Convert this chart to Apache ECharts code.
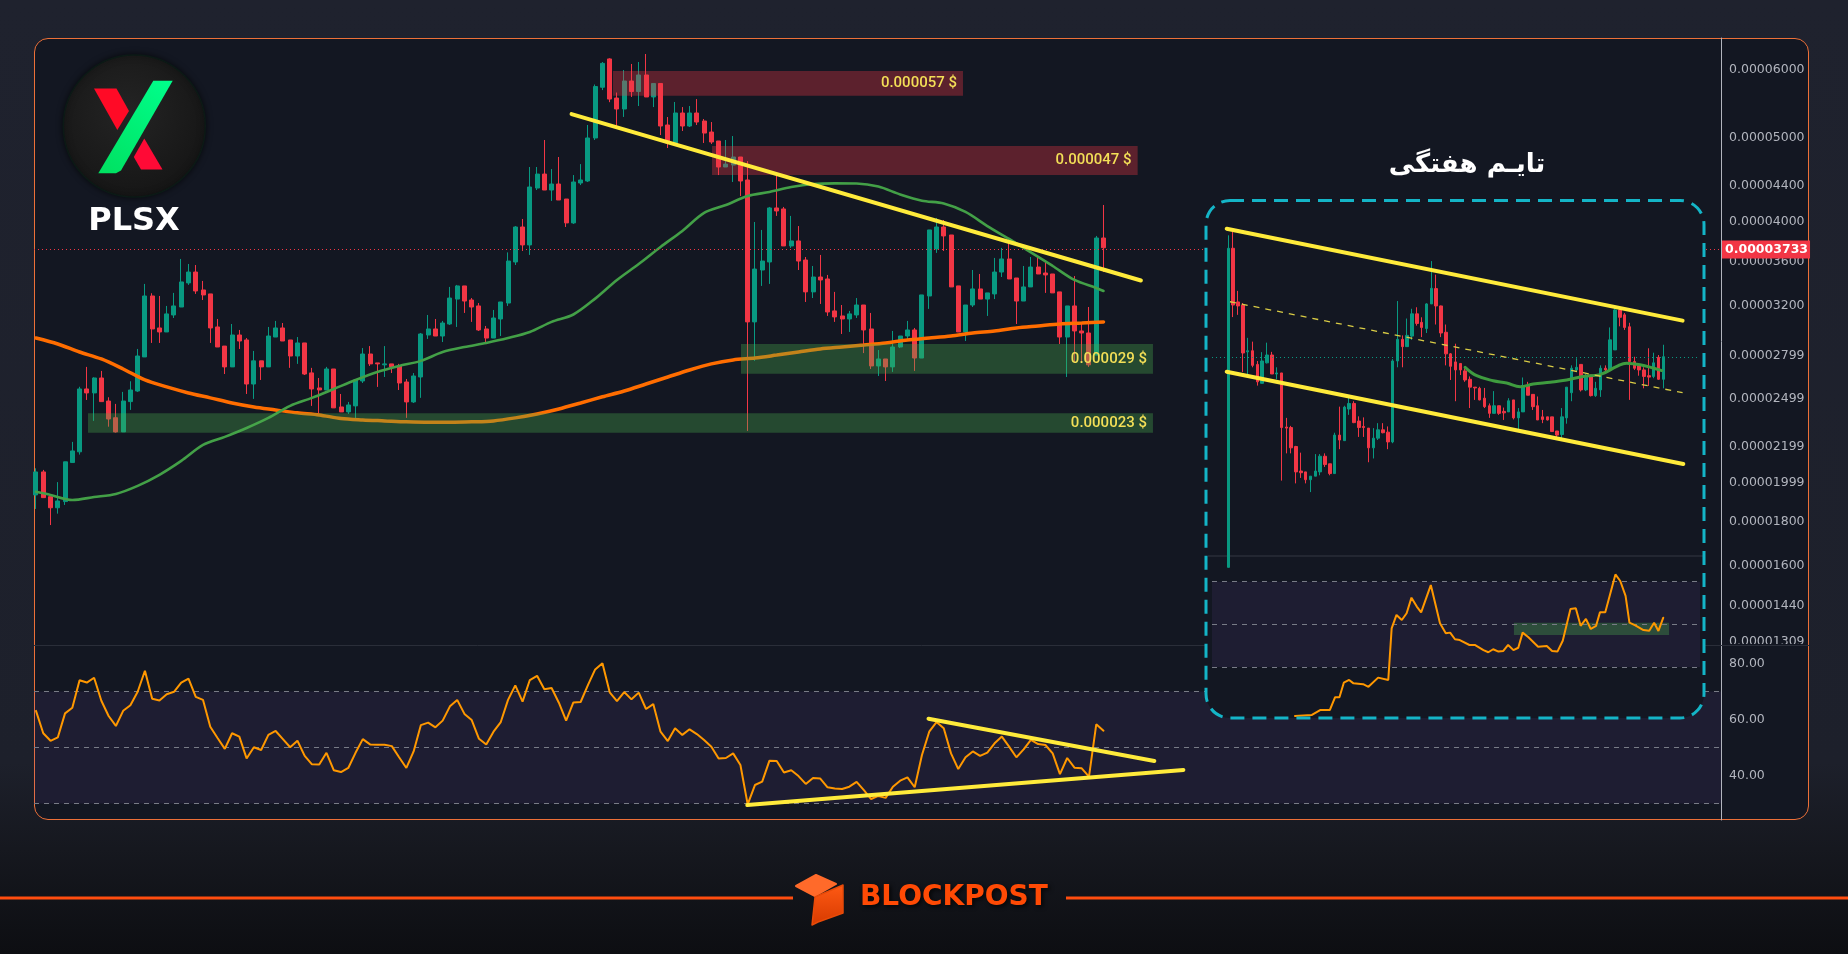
<!DOCTYPE html>
<html>
<head>
<meta charset="utf-8">
<script src="https://cdn.jsdelivr.net/npm/echarts@6.0.0/dist/echarts.min.js"></script>
<style>
html,body{margin:0;padding:0;width:1848px;height:954px;overflow:hidden;
  background:linear-gradient(180deg,#1f222e 0%,#1d202b 80%,#16181f 89%,#0d0e12 100%);}
#panel{position:absolute;left:34px;top:38px;width:1775px;height:782px;box-sizing:border-box;
  border:1px solid #ec7038;border-radius:14px;background:#131722;}
#c{position:absolute;left:0;top:0;width:1848px;height:954px;}
</style>
</head>
<body>
<div id="panel"></div>
<div id="c"></div>
<script>
// ---------------- DATA (prices in millionths of a US dollar) ----------------
const MICRO = 1e-6;
// daily candles: [open, close, low, high]
const dailyOHLC = [
[19.33,20.55,18.62,20.75],[20.55,19.19,19.19,20.66],[19.24,18.68,17.84,19.24],[18.68,19.02,18.39,20.00],
[18.99,21.11,18.82,21.11],[21.07,21.73,21.07,22.26],[21.68,25.63,21.52,25.78],[25.63,25.36,24.89,27.18],
[25.36,26.39,23.54,26.44],[26.39,24.78,24.78,26.89],[24.82,23.66,23.18,25.07],[23.74,22.86,22.82,24.63],
[22.86,24.82,22.86,25.43],[24.78,25.56,24.24,26.16],[25.49,27.98,25.43,28.51],[27.91,32.83,27.91,33.90],
[32.83,30.07,28.97,33.07],[30.15,29.83,28.97,32.83],[29.83,31.30,29.83,31.97],[31.21,31.97,30.96,33.10],
[31.88,34.08,31.88,36.23],[33.99,34.99,33.81,35.75],[34.99,33.27,33.01,35.65],[33.36,32.92,32.48,34.17],
[33.01,30.15,28.97,33.01],[30.23,28.66,28.66,30.88],[28.73,27.18,26.67,28.73],[27.18,29.59,27.18,30.47],
[29.59,29.12,28.51,29.99],[29.20,25.97,25.29,29.35],[25.97,27.62,24.96,28.36],[27.62,27.18,26.25,27.62],
[27.18,29.51,27.18,30.23],[29.43,30.15,29.43,30.72],[30.15,29.12,29.12,30.55],[29.20,27.98,27.11,29.20],
[27.98,28.97,27.40,29.43],[28.97,26.67,26.60,28.97],[26.75,25.63,24.50,27.11],[25.70,25.56,23.92,26.39],
[25.56,27.03,25.56,27.18],[27.03,24.37,24.37,27.03],[24.43,24.11,24.11,25.29],[24.11,24.56,23.98,24.76],
[24.50,26.25,23.60,26.25],[26.18,28.13,26.04,28.58],[28.13,27.40,27.25,28.73],[27.47,27.40,25.77,27.47],
[27.33,27.40,26.46,28.73],[27.40,27.18,26.74,27.40],[27.25,26.04,25.56,27.40],[26.11,24.76,23.73,26.32],
[24.76,26.53,24.69,26.74],[26.46,29.67,25.03,29.75],[29.59,30.07,29.28,31.21],[30.07,29.51,29.51,30.88],
[29.51,30.55,29.04,30.72],[30.47,32.65,30.39,33.63],[32.56,33.72,30.23,33.81],[33.72,32.39,31.38,33.72],
[32.48,31.88,30.64,32.65],[31.97,29.99,29.91,32.22],[30.07,29.35,28.97,30.31],[29.35,30.96,29.35,31.63],
[30.88,32.31,29.51,32.31],[32.22,36.03,31.97,36.87],[35.94,39.45,35.65,39.55],[39.45,37.61,37.01,40.30],
[37.61,43.88,36.62,46.28],[43.76,45.42,43.53,46.28],[45.42,43.53,43.53,49.73],[43.53,44.23,42.28,46.03],
[44.23,42.39,42.39,47.53],[42.50,39.88,39.45,42.50],[39.88,44.47,39.77,45.30],[44.35,44.71,44.11,46.64],
[44.59,50.00,44.47,51.76],[50.00,57.34,49.73,57.65],[57.23,60.99,56.80,61.21],[61.71,55.46,55.00,61.83],
[55.61,54.01,51.52,56.43],[54.01,58.19,52.88,59.92],[58.19,56.58,55.77,60.89],[56.58,59.13,54.44,61.21],
[59.13,55.77,55.77,62.53],[55.77,57.81,54.29,57.81],[57.81,51.62,50.39,57.81],[51.76,49.34,48.68,52.87],
[49.34,53.44,49.08,55.03],[53.44,51.62,50.94,54.29],[51.62,53.44,51.48,54.44],[53.44,52.17,51.76,55.46],
[52.31,50.66,49.34,52.59],[50.80,49.47,49.21,52.17],[49.60,46.28,45.30,49.60],[46.28,46.64,46.28,49.73],
[46.52,47.53,44.47,50.26],[47.53,44.59,42.84,47.53],[44.71,30.64,22.92,47.02],[30.64,35.27,27.62,39.98],
[35.18,36.03,33.72,39.14],[35.94,41.50,33.90,41.61],[41.50,41.17,40.63,45.30],[41.39,37.51,37.51,41.61],
[37.51,38.01,37.31,40.63],[38.01,36.03,35.18,39.55],[36.13,33.19,32.31,36.42],[33.19,34.53,32.65,35.56],
[34.53,34.26,32.14,36.62],[34.35,31.46,31.13,34.72],[31.55,31.05,30.64,33.19],[31.13,30.88,29.67,32.05],
[30.88,31.30,29.83,31.55],[31.21,32.05,30.96,32.65],[32.05,29.99,28.20,32.05],[30.07,27.25,27.03,31.38],
[27.25,27.76,26.53,28.43],[27.76,27.18,26.18,27.76],[27.18,28.66,26.82,29.91],[28.66,29.51,28.58,29.51],
[29.51,29.99,29.20,30.72],[29.99,27.83,26.89,30.15],[27.83,32.92,27.83,32.92],[32.83,39.14,31.72,39.14],
[37.21,39.45,36.82,40.41],[39.45,38.52,37.01,40.19],[38.62,33.63,33.63,38.62],[33.72,29.83,29.83,33.72],
[29.83,32.05,29.12,32.05],[32.05,33.45,31.88,35.18],[33.45,32.56,32.56,34.81],[32.56,33.10,31.13,33.10],
[33.01,34.99,32.56,36.33],[34.99,36.23,34.53,37.31],[36.23,34.35,34.35,38.21],[34.44,32.39,30.47,34.44],
[32.39,33.63,32.39,35.56],[33.63,35.46,33.63,36.42],[35.46,34.81,34.81,36.42],[34.90,34.72,33.10,36.13],
[34.81,33.10,33.10,34.81],[33.19,29.43,28.89,33.19],[29.43,31.97,26.46,31.97],[31.97,29.91,27.47,34.62],
[29.91,29.75,27.47,30.55],[29.75,27.33,27.18,31.88],[28.05,38.31,28.05,38.52],[38.31,37.33,34.99,41.83]
];
const lastPrice = 37.33;
// moving averages read at selected candle indices: [index, value]
const maFastDaily = [[0,19.49],[2,19.33],[5,19.07],[8,19.22],[11,19.38],[14,19.80],[17,20.39],[20,21.16],[23,22.08],
[26,22.56],[29,23.10],[32,23.73],[35,24.50],[38,25.03],[41,25.63],[44,26.25],[47,26.82],[50,27.25],[53,27.62],
[56,28.28],[59,28.66],[62,28.97],[65,29.35],[68,29.83],[71,30.64],[74,31.25],[77,32.60],[80,34.26],[83,35.75],
[86,37.41],[89,39.04],[92,40.96],[95,41.83],[98,42.84],[101,43.30],[104,43.88],[107,44.23],[110,44.31],[113,44.29],
[116,43.93],[119,43.02],[122,42.31],[125,42.00],[128,41.06],[131,39.55],[134,38.21],[137,36.87],[140,35.56],
[143,34.26],[146,33.54],[147,33.27]];
const maSlowDaily = [[0,29.35],[3,28.89],[6,28.28],[9,27.76],[12,27.03],[15,26.25],[18,25.77],[21,25.36],[24,25.03],
[27,24.69],[30,24.43],[33,24.24],[36,24.05],[39,23.92],[42,23.69],[45,23.60],[48,23.54],[51,23.48],[54,23.45],
[57,23.45],[60,23.48],[63,23.54],[66,23.73],[69,23.98],[72,24.30],[75,24.69],[78,25.10],[81,25.49],[84,25.97],
[87,26.46],[90,26.96],[93,27.40],[96,27.69],[99,27.83],[102,28.05],[105,28.28],[108,28.51],[111,28.66],[114,28.81],
[117,28.97],[120,29.20],[123,29.35],[126,29.51],[129,29.75],[132,29.91],[135,30.15],[138,30.31],[141,30.47],
[144,30.55],[147,30.64]];
// daily RSI, one value per candle
const rsiDaily = [63.1,55.1,52.4,53.6,62.2,64.2,74.0,73.2,74.9,66.7,61.25,57.7,63.1,65.1,69.9,77.4,67.4,66.8,69.0,69.9,
73.2,74.6,68.1,67.0,57.4,53.4,49.5,55.1,53.9,46.1,50.1,49.1,54.5,55.9,53.0,50.1,52.4,47.0,44.0,43.9,
48.1,41.9,41.25,42.7,48.1,53.0,51.1,51.0,51.0,50.5,46.5,42.7,48.6,58.0,58.9,57.2,59.6,64.7,67.0,62.0,
59.8,53.1,51.1,55.65,59.1,67.0,72.2,66.4,74.1,75.6,70.8,71.25,66.0,59.6,66.1,66.25,72.3,77.9,80.1,69.7,
66.6,69.8,67.2,69.6,63.75,65.5,55.65,52.3,56.85,54.5,56.5,54.8,52.7,50.3,46.1,46.25,47.9,43.75,29.7,36.6,
37.8,45.3,45.2,41.1,41.85,39.8,37.0,39.1,38.9,35.8,35.4,35.2,36.0,37.7,34.8,31.6,32.7,32.0,36.0,38.15,
39.35,35.8,47.3,55.65,59.1,56.85,47.9,42.3,46.5,48.6,47.0,48.15,51.5,53.9,50.3,46.5,49.35,52.7,51.25,50.9,
47.9,40.5,46.25,42.8,42.55,39.6,58.3,56.0];
// price axis tick labels and RSI levels
const priceTickLabels = [60,50,44,40,36,32,27.99,24.99,21.99,19.99,18,16,14.4,13.09];
const rsiTickLabels = [40,60,80];
const rsiLevels = [30,50,70];
// drawn zones: candle index range and price band
const zoneLabels = ['0.000057 $','0.000047 $','0.000029 $','0.000023 $'];
const zoneKinds  = ['resistance','resistance','support','support'];
const zoneFrom   = [79.45, 93.09, 97.08, 7.16];
const zoneTo     = [127.65, 151.7, 153.81, 153.81];
const zoneTop    = [59.76, 48.94, 28.89, 24.02];
const zoneBottom = [55.96, 45.31, 26.69, 22.81];
// trend lines: [index, value]
const dailyTrend = [[73.75,53.29],[152.15,34.21]];
const rsiTrendUpper = [[122.9,60.3],[154.0,45.2]];
const rsiTrendLower = [[97.95,29.46],[158.0,41.96]];

// weekly inset candles: [open, close, low, high]
const weeklyOHLC = [
[5.5,100.0,5.5,112.5],[100.0,59.7,53.5,116.0],[61.4,59.2,54.6,67.9],[59.7,38.6,32.5,60.8],[39.0,39.4,30.9,44.3],
[39.4,34.5,33.9,42.8],[34.8,29.7,28.7,35.9],[29.3,35.9,29.3,38.9],[35.3,37.9,35.1,42.4],[37.9,31.9,31.9,39.0],
[31.9,32.2,30.4,33.9],[32.2,19.6,12.1,32.2],[19.7,19.5,15.5,21.4],[19.6,16.3,15.5,19.9],[16.5,13.1,11.8,16.6],
[13.2,13.0,12.4,15.6],[13.1,12.2,11.8,13.1],[12.2,12.6,10.9,12.6],[12.6,13.2,12.6,15.4],[13.1,15.1,12.7,15.4],
[15.1,14.0,13.7,15.5],[14.1,12.9,12.7,14.1],[12.9,18.3,12.9,18.7],[18.3,17.5,16.1,23.7],[17.4,23.6,17.4,23.9],
[23.2,24.4,22.0,26.2],[24.4,20.5,20.4,24.9],[20.8,19.6,18.0,21.7],[19.8,19.6,18.0,21.5],[19.5,16.3,14.3,19.5],
[16.3,17.8,14.8,19.5],[17.8,19.2,17.5,20.4],[19.2,18.7,18.6,20.4],[18.8,17.2,16.1,19.8],[17.2,35.9,17.0,36.5],
[35.9,43.7,33.9,61.9],[43.7,40.9,33.9,45.3],[40.9,45.3,40.9,52.8],[45.0,55.1,43.5,57.7],[55.1,50.5,49.5,58.5],
[51.0,48.7,44.6,53.4],[48.2,60.3,46.3,60.7],[60.3,69.5,60.3,89.0],[69.3,59.2,50.0,78.7],[59.2,46.3,44.6,59.4],
[46.6,38.3,34.5,50.0],[38.3,34.2,30.2,38.6],[35.6,33.1,24.9,42.0],[35.1,33.1,31.6,35.1],[32.8,30.2,29.7,33.6],
[30.4,28.3,23.4,31.2],[28.3,28.1,25.2,28.3],[28.0,25.2,25.1,28.4],[25.6,23.7,23.4,28.1],[23.9,22.3,21.4,24.4],
[22.3,23.9,22.3,27.3],[23.9,22.3,22.0,23.9],[22.7,22.4,21.0,23.5],[22.6,25.0,22.6,25.6],[25.2,21.4,21.1,25.2],
[21.4,22.6,18.9,23.4],[22.6,28.7,22.6,30.9],[28.7,26.3,26.3,29.7],[26.5,23.7,23.0,26.5],[23.9,21.0,21.0,26.0],
[21.6,21.1,20.4,23.0],[21.6,21.0,20.9,21.6],[21.6,18.9,18.9,21.6],[19.0,18.3,17.5,19.0],[18.4,21.6,17.4,23.4],
[21.4,28.3,20.3,28.3],[26.9,33.6,24.9,34.5],[33.1,33.9,32.5,36.8],[34.8,27.6,27.2,34.8],[27.6,31.4,27.3,31.9],
[31.6,26.2,26.0,31.6],[26.2,28.0,25.9,29.7],[27.6,33.6,25.9,34.5],[33.6,33.1,32.5,34.5],[33.1,43.5,33.1,48.7],
[39.7,57.1,39.7,58.1],[57.1,53.4,49.2,58.7],[54.6,48.7,47.6,55.5],[49.0,35.7,25.2,50.8],[35.7,33.6,33.1,37.3],
[34.5,33.1,31.4,35.1],[33.1,31.2,28.0,33.9],[31.4,31.0,28.6,40.3],[31.2,35.3,30.7,38.7],[37.1,30.4,30.2,37.9],
[30.4,37.33,28.0,41.6]
];
const weeklyMA = [[49.0,33.9],[51.4,31.4],[54.8,30.0],[57.6,29.4],[60.4,28.4],[63.1,29.1],[66.6,29.6],[70.0,30.2],
[73.4,31.2],[76.9,31.7],[80.4,34.2],[82.4,35.2],[85.2,34.7],[89.7,32.9]];
const weeklyRSI = [[13.8,7.0],[17.3,7.5],[19.0,9.8],[21.0,9.8],[22.1,15.8],[23.0,15.8],[23.9,22.6],[25.0,23.9],
[25.9,22.3],[27.9,21.9],[29.0,20.7],[31.0,25.0],[33.1,23.9],[33.8,48.1],[34.8,54.4],[35.9,52.0],[36.9,55.2],
[37.9,62.5],[39.0,58.3],[39.9,55.6],[41.9,68.4],[43.8,50.5],[45.0,45.8],[45.9,46.1],[46.9,43.0],[47.9,42.6],
[49.9,40.3],[51.0,40.3],[52.8,37.9],[53.8,36.9],[54.8,38.3],[55.9,37.2],[56.9,37.5],[57.9,40.3],[59.0,37.9],
[60.0,39.0],[60.9,46.1],[62.1,43.9],[64.1,39.5],[65.9,39.8],[67.0,37.5],[68.1,37.2],[69.2,42.3],[70.8,57.2],
[71.9,57.5],[72.9,49.3],[74.0,52.5],[75.0,47.8],[76.1,49.3],[76.9,55.6],[78.0,55.6],[80.1,73.4],[81.1,70.3],
[82.2,63.3],[83.0,50.75],[84.2,49.5],[85.9,47.3],[87.1,47.0],[88.1,50.75],[89.0,46.9],[90.0,53.1]];
const weeklyRsiZone = [[59.1,50.75],[91.2,45.0]];
const weeklyChannelUpper = [[-0.33,119.5],[94.0,51.8]];
const weeklyChannelLower = [[-0.33,32.57],[94.15,14.08]];
const weeklyChannelMid   = [[0.35,61.5],[94.0,26.9]];

// ---------------- CHART ----------------
const L = v => Math.log10(v);
const fmtPrice = v => (v * MICRO).toFixed(8);
const UP = '#089981', DOWN = '#f23645', YEL = '#ffeb3b', ORANGE_RSI = '#ff9800';
const AXF = 'DejaVu Sans';
const BG = '#131722';

const xMain = {type:'value', min:-0.2754, max:232.03, show:false, axisLine:{onZero:false}};
const xInset = {type:'value', min:-3.373, max:97.6, show:false, axisLine:{onZero:false}};
const axisLabelBase = {color:'#b2b5be', fontFamily:AXF, fontSize:12.5, margin:8};

const lineSeries = (pts, xi, yi, color, width, z, extra) => Object.assign({
  type:'line', xAxisIndex:xi, yAxisIndex:yi, data:pts, z:z, symbol:'none', silent:true,
  lineStyle:{color:color, width:width, cap:'round'}
}, extra || {});

const candleStyle = {color:UP, color0:DOWN, borderColor:UP, borderColor0:DOWN, borderWidth:1};
const rsiGuideLines = (z) => ({silent:true, z:z, symbol:'none', animation:false, label:{show:false},
    lineStyle:{color:'#787b86', type:[5,5], width:1}, data:rsiLevels.map(v=>({yAxis:v}))});

const option = {
  animation:false,
  backgroundColor:'transparent',
  grid:[
    {left:34, top:38, width:1687, height:607},
    {left:34, top:645, width:1687, height:175},
    {left:1212, top:205, width:488, height:351},
    {left:1212, top:556, width:488, height:162}
  ],
  xAxis:[
    Object.assign({gridIndex:0}, xMain),
    Object.assign({gridIndex:1}, xMain),
    Object.assign({gridIndex:2}, xInset),
    Object.assign({gridIndex:3}, xInset)
  ],
  yAxis:[
    {gridIndex:0, type:'value', position:'right', min:L(12.962), max:L(65.25),
     axisLine:{show:true, onZero:false, lineStyle:{color:'#b2b5be', width:1}}, axisTick:{show:false}, splitLine:{show:false},
     axisLabel:Object.assign({customValues:priceTickLabels.map(L), formatter:v=>fmtPrice(Math.pow(10,v))}, axisLabelBase)},
    {gridIndex:1, type:'value', position:'right', min:24.11, max:86.61,
     axisLine:{show:true, onZero:false, lineStyle:{color:'#b2b5be', width:1}}, axisTick:{show:false}, splitLine:{show:false},
     axisLabel:Object.assign({customValues:rsiTickLabels, formatter:v=>Number(v).toFixed(2)}, axisLabelBase)},
    {gridIndex:2, type:'value', min:L(6.098), max:L(148.2), show:false, axisLine:{onZero:false}},
    {gridIndex:3, type:'value', min:6.06, max:82.03, show:false, axisLine:{onZero:false}}
  ],
  series:[
    // ---- main RSI guides
    {type:'line', xAxisIndex:1, yAxisIndex:1, data:[], z:1, silent:true,
     markArea:{silent:true, z:1, itemStyle:{color:'rgba(126,87,194,0.1)'}, data:[[{yAxis:rsiLevels[0]},{yAxis:rsiLevels[2]}]]},
     markLine:rsiGuideLines(1)},
    // ---- daily candles
    {type:'candlestick', xAxisIndex:0, yAxisIndex:0, z:2, barWidth:4.5, clip:true, silent:true,
     dimensions:['idx','open','close','lowest','highest'],
     encode:{x:'idx', y:['open','close','lowest','highest']},
     data:dailyOHLC.map((d,i)=>[i, L(d[0]), L(d[1]), L(d[2]), L(d[3])]),
     itemStyle:candleStyle,
     markLine:{silent:true, z:5, symbol:'none', animation:false,
       lineStyle:{color:DOWN, type:[1,3], width:1},
       label:{show:true, position:'end', distance:1, formatter:()=>fmtPrice(lastPrice),
         backgroundColor:DOWN, color:'#ffffff', fontFamily:AXF, fontSize:12.5, fontWeight:'bold', padding:[3,2,2,3]},
       data:[{yAxis:L(lastPrice)}]}
    },
    // ---- moving averages
    lineSeries(maSlowDaily.map(p=>[p[0], L(p[1])]), 0, 0, '#ff6d00', 3.5, 3, {smooth:0.3}),
    lineSeries(maFastDaily.map(p=>[p[0], L(p[1])]), 0, 0, '#43a047', 2.6, 3, {smooth:0.3}),
    // ---- zones
    {type:'line', xAxisIndex:0, yAxisIndex:0, data:[], z:4, silent:true,
     markArea:{silent:true, z:4,
       label:{show:true, position:'insideRight', distance:6, formatter:'{b}', color:'#f3df57',
         fontFamily:'Roboto', fontSize:15, fontWeight:500},
       data:zoneLabels.map((lab,k)=>[
         {name:lab, xAxis:zoneFrom[k], yAxis:L(zoneTop[k]),
          itemStyle:{color: zoneKinds[k]==='resistance' ? 'rgba(242,54,69,0.33)' : 'rgba(76,175,80,0.33)'}},
         {xAxis:zoneTo[k], yAxis:L(zoneBottom[k])}
       ])}
    },
    // ---- daily trend line
    lineSeries(dailyTrend.map(p=>[p[0], L(p[1])]), 0, 0, YEL, 4, 6),
    // ---- daily RSI
    lineSeries(rsiDaily.map((v,i)=>[i, v]), 1, 1, ORANGE_RSI, 2, 3),
    lineSeries(rsiTrendUpper, 1, 1, YEL, 4, 6),
    lineSeries(rsiTrendLower, 1, 1, YEL, 4, 6),

    // ---- weekly inset
    {type:'candlestick', xAxisIndex:2, yAxisIndex:2, z:20, barWidth:3, clip:true, silent:true,
     dimensions:['idx','open','close','lowest','highest'],
     encode:{x:'idx', y:['open','close','lowest','highest']},
     data:weeklyOHLC.map((d,i)=>[i, L(d[0]), L(d[1]), L(d[2]), L(d[3])]),
     itemStyle:candleStyle,
     markLine:{silent:true, z:21, symbol:'none', animation:false, label:{show:false},
       lineStyle:{color:UP, type:[1,3], width:1}, data:[{yAxis:L(lastPrice)}]}
    },
    lineSeries(weeklyMA.map(p=>[p[0], L(p[1])]), 2, 2, '#3f9c3f', 3, 21, {smooth:0.4}),
    lineSeries(weeklyChannelUpper.map(p=>[p[0], L(p[1])]), 2, 2, YEL, 4, 22),
    lineSeries(weeklyChannelLower.map(p=>[p[0], L(p[1])]), 2, 2, YEL, 4, 22),
    lineSeries(weeklyChannelMid.map(p=>[p[0], L(p[1])]), 2, 2, '#d9cc45', 1.3, 22,
      {lineStyle:{color:'#d9cc45', width:1.3, type:[6,6]}}),
    {type:'line', xAxisIndex:3, yAxisIndex:3, data:[], z:20, silent:true,
     markArea:{silent:true, z:20, data:[
        [{yAxis:rsiLevels[0], itemStyle:{color:'rgba(126,87,194,0.1)'}},{yAxis:rsiLevels[2]}],
        [{xAxis:weeklyRsiZone[0][0], yAxis:weeklyRsiZone[0][1], itemStyle:{color:'rgba(76,175,80,0.33)'}},
         {xAxis:weeklyRsiZone[1][0], yAxis:weeklyRsiZone[1][1]}]
      ]},
     markLine:rsiGuideLines(21)},
    lineSeries(weeklyRSI, 3, 3, ORANGE_RSI, 2, 22)
  ],
  graphic:{elements:[
    // pane separators (the price-axis label running into the RSI pane is cut, as in the source)
    {type:'rect', z:6, silent:true, shape:{x:1722, y:644, width:86, height:9}, style:{fill:BG}},
    {type:'line', z:7, silent:true, shape:{x1:34, y1:645.5, x2:1809, y2:645.5}, style:{stroke:'#2a2e39', lineWidth:1}},
    // inset box
    {type:'rect', z:10, silent:true, shape:{x:1206, y:200.5, width:498, height:517.5, r:24}, style:{fill:BG}},
    {type:'line', z:15, silent:true, shape:{x1:1208, y1:556, x2:1703, y2:556}, style:{stroke:'#2a2e39', lineWidth:1.5}},
    {type:'rect', z:40, silent:true, shape:{x:1206, y:200.5, width:498, height:517.5, r:24},
     style:{fill:'none', stroke:'#14b5c7', lineWidth:3, lineDash:[14,8]}},
    {type:'text', z:40, silent:true, style:{x:1467, y:165, text:'تایـم هفتگی', fill:'#ffffff',
      font:'bold 26px "DejaVu Sans", "Noto Sans", sans-serif', textAlign:'center', textVerticalAlign:'middle'}},
    // coin logo
    {type:'circle', z:40, silent:true, shape:{cx:134.3, cy:126, r:71},
     style:{fill:{type:'radial', x:0.45, y:0.4, r:0.6, colorStops:[{offset:0,color:'#242424'},{offset:1,color:'#161616'}]},
            stroke:'#0c1a16', lineWidth:1.5, shadowBlur:6, shadowColor:'rgba(0,0,0,0.6)'}},
    {type:'polygon', z:41, silent:true, shape:{points:[[94,88.5],[116.5,88.5],[129,111],[117.3,130]]}, style:{fill:'#ff0a26'}},
    {type:'polygon', z:41, silent:true, shape:{points:[[144.3,138.5],[162.5,169.5],[141,169.5],[133.8,157]]}, style:{fill:'#ff0a36'}},
    {type:'polygon', z:42, silent:true, shape:{points:[[153.3,80.7],[172.7,80.7],[121,170.5],[116,173.3],[98.3,173.3]]},
     style:{fill:{type:'linear', x:0, y:1, x2:1, y2:0, colorStops:[{offset:0,color:'#00e060'},{offset:1,color:'#00ff8c'}]}}},
    {type:'text', z:40, silent:true, style:{x:134, y:222, text:'PLSX', fill:'#ffffff',
      font:'bold 32px "DejaVu Sans", sans-serif', textAlign:'center', textVerticalAlign:'middle'}},
    // footer brand
    {type:'line', z:40, silent:true, shape:{x1:0, y1:898, x2:793, y2:898}, style:{stroke:'#ff4d0f', lineWidth:3}},
    {type:'line', z:40, silent:true, shape:{x1:1066, y1:898, x2:1848, y2:898}, style:{stroke:'#ff4d0f', lineWidth:3}},
    {type:'polygon', z:40, silent:true, shape:{points:[[796,886],[816,875],[836,884],[815,896]]},
     style:{fill:'#ff6a2a', stroke:'#ff6a2a', lineWidth:2, lineJoin:'round'}},
    {type:'polygon', z:40, silent:true, shape:{points:[[815,897],[843,885],[843,913],[818,922],[812,925]]},
     style:{fill:{type:'linear', x:0, y:0, x2:0, y2:1, colorStops:[{offset:0,color:'#ff5a14'},{offset:1,color:'#d63a00'}]},
            stroke:'#e84a08', lineWidth:1.5, lineJoin:'round'}},
    {type:'text', z:40, silent:true, style:{x:860, y:898, text:'BLOCKPOST', fill:'#ff4a05',
      font:'bold 28px "DejaVu Sans", sans-serif', textVerticalAlign:'middle',
      textShadowColor:'rgba(0,0,0,0.7)', textShadowBlur:4, textShadowOffsetX:2, textShadowOffsetY:2}}
  ]}
};

const chart = echarts.init(document.getElementById('c'), null, {renderer:'canvas'});
chart.setOption(option);
</script>
</body>
</html>
